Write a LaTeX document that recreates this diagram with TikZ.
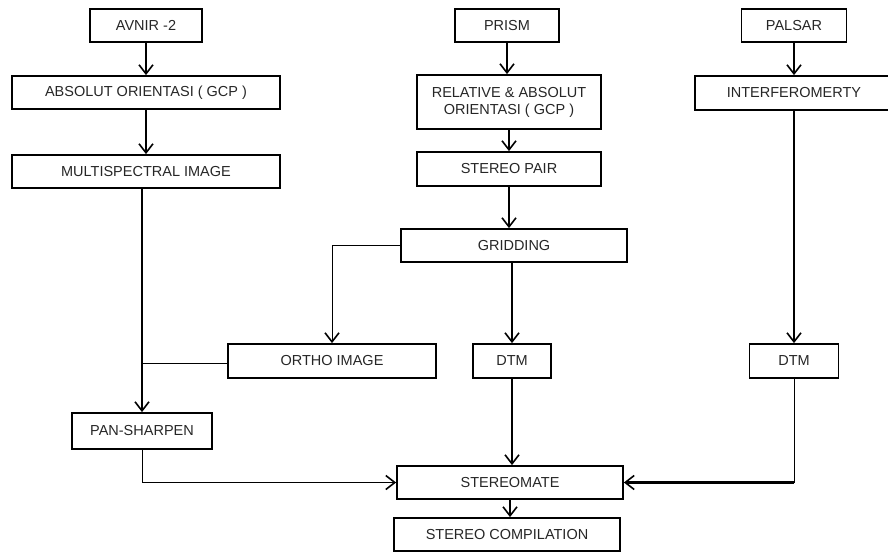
\documentclass[tikz,border=0pt]{standalone}
\usepackage{fontspec}
\setmainfont{Liberation Sans}
\usetikzlibrary{arrows.meta}
\tikzset{
  box/.style={draw, line width=1.8pt, rectangle, inner sep=0pt, align=center,
    font=\fontsize{14.5}{17}\selectfont, text=black!85},
  tip/.style={-{Straight Barb[length=9pt,width=14pt,line width=1.6pt]}},
  flow/.style={line width=1.8pt, tip},
  thinflow/.style={line width=0.9pt, tip},
  thinline/.style={line width=0.9pt},
}
\begin{document}
\begin{tikzpicture}[x=1pt,y=-1pt]
\useasboundingbox (0,0) rectangle (888,553);
\clip (0,0) rectangle (888,553);
% left column
\node[box, minimum width=112pt, minimum height=33pt] (avnir) at (146,25.5) {AVNIR -2};
\node[box, minimum width=268pt, minimum height=33pt] (abs) at (146,92.5) {ABSOLUT ORIENTASI ( GCP )};
\node[box, minimum width=268pt, minimum height=33pt] (multi) at (146,171.5) {MULTISPECTRAL IMAGE};
\node[box, minimum width=140pt, minimum height=36pt] (pan) at (142,431) {PAN-SHARPEN};
% middle column
\node[box, minimum width=104pt, minimum height=33pt] (prism) at (507,25.5) {PRISM};
\node[box, minimum width=184pt, minimum height=54pt] (rel) at (509,102) {RELATIVE \& ABSOLUT\\ORIENTASI ( GCP )};
\node[box, minimum width=184pt, minimum height=34pt] (pair) at (509,169) {STEREO PAIR};
\node[box, minimum width=226pt, minimum height=33pt] (grid) at (514,245.5) {GRIDDING};
\node[box, minimum width=208pt, minimum height=34pt] (ortho) at (332,361) {ORTHO IMAGE};
\node[box, minimum width=78pt, minimum height=34pt] (dtma) at (512,361) {DTM};
\node[box, minimum width=226pt, minimum height=33pt] (smate) at (510,482.5) {STEREOMATE};
\node[box, minimum width=226pt, minimum height=33pt] (scomp) at (507,534.5) {STEREO COMPILATION};
% right column
\node[box, minimum width=105pt, minimum height=33pt] (palsar) at (794,25.5) {PALSAR};
\node[box, minimum width=198pt, minimum height=34pt] (inter) at (794,93) {INTERFEROMERTY};
\node[box, minimum width=89pt, minimum height=34pt] (dtmb) at (794,361) {DTM};
% coordinates
\coordinate (join) at (142,363);
% connectors
\draw[flow] (avnir.south) -- (abs.north);
\draw[flow] (abs.south) -- (multi.north);
\draw[flow] (pan.north |- multi.south) -- (pan.north);
\draw[thinline] (ortho.west |- join) -- (join);
\draw[flow] (prism.south) -- (prism.south |- rel.north);
\draw[flow] (rel.south) -- (pair.north);
\draw[flow] (pair.south) -- (pair.south |- grid.north);
\draw[thinflow] (grid.west) -- (ortho.north |- grid.west) -- (ortho.north);
\draw[flow] (dtma.north |- grid.south) -- (dtma.north);
\draw[flow] (dtma.south) -- (dtma.south |- smate.north);
\draw[thinflow] (pan.south) -- (pan.south |- smate.west) -- (smate.west);
\draw[thinline] (dtmb.south) -- (dtmb.south |- smate.east);
\draw[line width=2.6pt, tip] (dtmb.south |- smate.east) -- (smate.east);
\draw[flow] (smate.south) -- (smate.south |- scomp.north);
\draw[flow] (palsar.south) -- (inter.north);
\draw[flow] (inter.south) -- (dtmb.north);
\end{tikzpicture}
\end{document}
